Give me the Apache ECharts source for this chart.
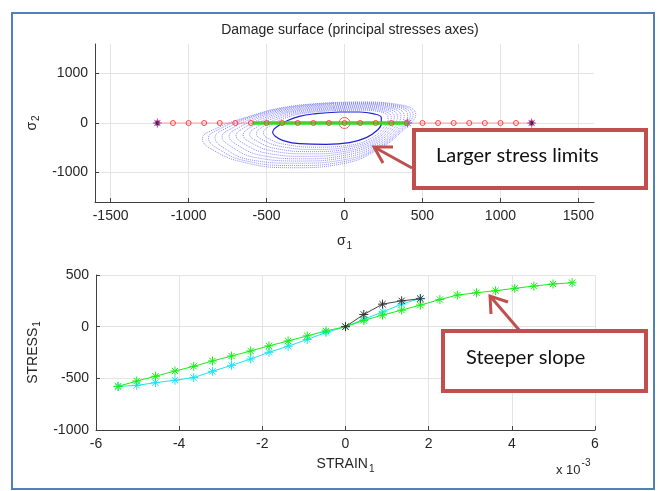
<!DOCTYPE html>
<html>
<head>
<meta charset="utf-8">
<script src="https://cdn.jsdelivr.net/npm/echarts@6/dist/echarts.min.js"></script>
<style>
  html, body { margin: 0; padding: 0; background: #fff; }
  #chart { width: 660px; height: 491px; }
</style>
</head>
<body>
<div id="chart"></div>
<script>
// ---- top plot: principal stresses plane ----
const sigmaTicks1 = [-1500, -1000, -500, 0, 500, 1000, 1500]
const sigmaTicks2 = [-1000, 0, 1000]
// loading path along sigma_1 (red circles)
const loadPath = [-1200, -1100, -1000, -900, -800, -700, -600, -500, -400, -300, -200, -100, 0,
  100, 200, 300, 400, 500, 600, 700, 800, 900, 1000, 1100, 1200]
const limitStars = [-1200, 1200]
const elasticSeg = [-590, 405]
// damage surfaces (left tip first, then clockwise)
const surfaceInner = [[-461, -182], [-429, -67], [-375, 34], [-290, 135], [-182, 189], [-32, 223], [97, 223],
  [182, 189], [236, 108], [236, -13], [204, -162], [140, -297], [32, -398], [-118, -432], [-290, -419],
  [-397, -351], [-444, -270]]
const surfaces = [
  [[-520, -200], [-480, -60], [-380, 100], [-250, 200], [-60, 250], [100, 258], [230, 225], [280, 110], [265, -40], [170, -310], [20, -455], [-170, -490], [-370, -440], [-480, -330]],
  [[-565, -215], [-520, -70], [-410, 105], [-265, 215], [-62, 270], [100, 280], [247, 240], [300, 120], [280, -50], [180, -335], [16, -490], [-185, -535], [-400, -480], [-520, -350]],
  [[-608, -228], [-560, -78], [-440, 110], [-280, 232], [-64, 290], [100, 300], [265, 258], [320, 130], [295, -57], [185, -360], [14, -530], [-205, -580], [-430, -525], [-560, -370]],
  [[-650, -242], [-600, -84], [-470, 114], [-295, 248], [-66, 310], [99, 320], [285, 273], [340, 138], [310, -65], [192, -385], [10, -570], [-225, -625], [-465, -565], [-605, -390]],
  [[-695, -255], [-640, -90], [-500, 118], [-310, 262], [-68, 330], [99, 340], [305, 290], [362, 145], [325, -75], [198, -410], [6, -610], [-245, -675], [-500, -610], [-650, -410]],
  [[-740, -268], [-680, -96], [-530, 122], [-325, 278], [-70, 350], [98, 360], [322, 305], [383, 152], [340, -83], [204, -435], [2, -655], [-265, -725], [-535, -655], [-695, -430]],
  [[-785, -281], [-720, -102], [-555, 126], [-340, 292], [-72, 370], [98, 378], [340, 320], [405, 160], [355, -92], [210, -460], [-2, -700], [-285, -770], [-570, -700], [-740, -450]],
  [[-830, -293], [-760, -107], [-580, 130], [-352, 305], [-73, 388], [97, 395], [352, 333], [422, 166], [366, -100], [215, -485], [-5, -745], [-305, -815], [-605, -745], [-790, -470]],
  [[-872, -305], [-795, -111], [-597, 133], [-364, 316], [-74, 402], [97, 411], [365, 346], [440, 171], [376, -108], [220, -502], [-8, -785], [-318, -862], [-630, -770], [-830, -485]],
  [[-912, -317], [-826, -115], [-611, 135], [-375, 325], [-75, 412], [97, 426], [376, 359], [457, 176], [386, -115], [225, -520], [-11, -825], [-332, -906], [-654, -791], [-869, -500]]
]

// ---- bottom plot: stress / strain (strain in 1e-3) ----
const strainTicks = [-6, -4, -2, 0, 2, 4, 6]
const stressTicks = [-1000, -500, 0, 500]
const strainGreen = [-5.47, -5.02, -4.57, -4.10, -3.65, -3.20, -2.74, -2.28, -1.84, -1.38, -0.92, -0.47, 0,
  0.44, 0.89, 1.35, 1.80, 2.27, 2.69, 3.15, 3.61, 4.07, 4.53, 4.99, 5.45]
const stressGreen = [-578, -526, -480, -429, -384, -332, -284, -235, -186, -138, -89, -41, 0,
  60, 112, 160, 209, 262, 306, 328, 348, 371, 393, 413, 425]
const strainCyan = [-5.47, -5.02, -4.57, -4.10, -3.65, -3.20, -2.74, -2.28, -1.84, -1.38, -0.92, -0.47, 0,
  0.45, 0.90, 1.35, 1.80]
const stressCyan = [-578, -568, -542, -518, -493, -432, -374, -313, -248, -189, -124, -56, 0,
  72, 144, 218, 274]
const strainBlack = [0, 0.44, 0.89, 1.35, 1.80]
const stressBlack = [0, 118, 218, 250, 270]

const ASTER = 'path://M5,0L5,10M0,5L10,5M1.5,1.5L8.5,8.5M1.5,8.5L8.5,1.5'
const FONT = 'Liberation Sans, Arial, sans-serif'
const TXT = '#262626'

const chart = echarts.init(document.getElementById('chart'))

const zip = (xs, ys) => xs.map((x, i) => [x, ys[i]])
// start the closed loop at a flat spot so the smoothing seam is hidden
const closeLoop = (pts, start) => pts.slice(start).concat(pts.slice(0, start + 1))

const subRich = {
  a: { fontSize: 14, color: TXT, fontFamily: FONT },
  s: { fontSize: 10, color: TXT, fontFamily: FONT, padding: [9, 0, 0, 1] }
}

const valueAxis = (grid, min, max, ticks, extra) => Object.assign({
  type: 'value',
  gridIndex: grid,
  min: min,
  max: max,
  axisLine: { show: true, onZero: false, lineStyle: { color: '#404040', width: 1 } },
  axisTick: { show: true, inside: true, length: 4, customValues: ticks, lineStyle: { color: '#404040' } },
  axisLabel: {
    customValues: ticks, color: TXT, fontSize: 14, fontFamily: FONT, margin: 7,
    showMinLabel: true, showMaxLabel: true, formatter: v => String(v)
  },
  splitLine: { show: true, lineStyle: { color: '#e4e4e4', width: 1 } },
  nameLocation: 'middle',
  nameTextStyle: { rich: subRich }
}, extra)

const lineSeries = (x, y, data, style) => Object.assign({
  type: 'line',
  xAxisIndex: x,
  yAxisIndex: y,
  data: data,
  silent: true,
  animation: false
}, style)

const series = []

surfaces.forEach(s => {
  series.push(lineSeries(0, 0, closeLoop(s, 4), {
    smooth: 0.45,
    showSymbol: false,
    lineStyle: { color: 'rgba(60,60,255,0.6)', width: 1, type: [1, 1] }
  }))
})
series.push(lineSeries(0, 0, closeLoop(surfaceInner, 5), {
  smooth: 0.45,
  showSymbol: false,
  lineStyle: { color: '#1f1fd8', width: 1.2 }
}))
series.push(lineSeries(0, 0, elasticSeg.map(v => [v, 0]), {
  showSymbol: false,
  lineStyle: { color: '#11ee11', width: 3.5 }
}))
series.push(lineSeries(0, 0, loadPath.map(v => [v, 0]), {
  symbol: 'circle',
  symbolSize: 5,
  showAllSymbol: true,
  itemStyle: { color: 'rgba(0,0,0,0)', borderColor: '#ff4040', borderWidth: 1 },
  lineStyle: { color: 'rgba(250,110,110,0.6)', width: 1 }
}))
series.push({
  type: 'scatter', xAxisIndex: 0, yAxisIndex: 0, silent: true, animation: false,
  data: [[0, 0]], symbol: 'circle', symbolSize: 11,
  itemStyle: { color: 'rgba(0,0,0,0)', borderColor: '#ff3030', borderWidth: 1 }
})
series.push({
  type: 'scatter', xAxisIndex: 0, yAxisIndex: 0, silent: true, animation: false,
  data: limitStars.concat([elasticSeg[1]]).map(v => [v, 0]), symbol: ASTER, symbolSize: 9,
  itemStyle: { color: 'rgba(0,0,0,0)', borderColor: '#3a3aff', borderWidth: 1 }
})
series.push({
  type: 'scatter', xAxisIndex: 0, yAxisIndex: 0, silent: true, animation: false,
  data: limitStars.map(v => [v, 0]), symbol: 'rect', symbolSize: 4,
  itemStyle: { color: '#10106a' }
})

const starLine = (xs, ys, color, lineColor) => lineSeries(1, 1, zip(xs, ys), {
  symbol: ASTER,
  symbolSize: 9,
  showAllSymbol: true,
  itemStyle: { color: 'rgba(0,0,0,0)', borderColor: color, borderWidth: 1 },
  lineStyle: { color: lineColor || color, width: 1 }
})
series.push(starLine(strainCyan, stressCyan, '#19e6f0'))
series.push(starLine(strainGreen, stressGreen, '#14f014'))
series.push(starLine(strainBlack, stressBlack, '#333333', '#444444'))

const boxColor = '#c0504d'

const option = {
  backgroundColor: '#fff',
  animation: false,
  title: {
    text: 'Damage surface (principal stresses axes)',
    left: 345,
    textAlign: 'center',
    top: 18,
    textStyle: { fontSize: 14, fontWeight: 'normal', color: TXT, fontFamily: FONT }
  },
  grid: [
    { left: 95, right: 66, top: 44, height: 158 },
    { left: 96, right: 65, top: 275, height: 155 }
  ],
  xAxis: [
    valueAxis(0, -1600, 1600, sigmaTicks1, { name: '{a|σ}{s|1}', nameGap: 30 }),
    valueAxis(1, -6, 6, strainTicks, { interval: 2, name: '{a|STRAIN}{s|1}', nameGap: 25 })
  ],
  yAxis: [
    valueAxis(0, -1600, 1600, sigmaTicks2, { name: '{a|σ}{s|2}', nameGap: 50 }),
    valueAxis(1, -1000, 500, stressTicks, { interval: 500, name: '{a|STRESS}{s|1}', nameGap: 52 })
  ],
  series: series,
  graphic: [
    {
      type: 'rect', silent: true, z: 100,
      shape: { x: 12, y: 13, width: 642, height: 476 },
      style: { fill: 'none', stroke: '#4f81bd', lineWidth: 2 }
    },
    {
      type: 'text', silent: true, z: 100, left: 556, top: 458,
      style: {
        text: '{a|x 10}{s|-3}',
        rich: {
          a: { fontSize: 13, fill: TXT, fontFamily: FONT, padding: [8, 0, 0, 0] },
          s: { fontSize: 10, fill: TXT, fontFamily: FONT, padding: [0, 0, 6, 1] }
        }
      }
    },
    // "Larger stress limits" callout
    {
      type: 'line', silent: true, z: 100,
      shape: { x1: 412, y1: 168, x2: 374, y2: 147 },
      style: { stroke: boxColor, lineWidth: 3 }
    },
    {
      type: 'polyline', silent: true, z: 100,
      shape: { points: [[393, 147], [374, 147], [383, 163]] },
      style: { stroke: boxColor, lineWidth: 3, fill: 'none' }
    },
    {
      type: 'rect', silent: true, z: 100,
      shape: { x: 414, y: 130, width: 232, height: 58 },
      style: { fill: '#fff', stroke: boxColor, lineWidth: 4 }
    },
    {
      type: 'text', silent: true, z: 101, left: 436, top: 146,
      style: { text: 'Larger stress limits', fontSize: 20, fill: '#111', fontFamily: 'Lato, sans-serif' }
    },
    // "Steeper slope" callout
    {
      type: 'line', silent: true, z: 100,
      shape: { x1: 520, y1: 331, x2: 490, y2: 296 },
      style: { stroke: boxColor, lineWidth: 3 }
    },
    {
      type: 'polyline', silent: true, z: 100,
      shape: { points: [[491, 314], [490, 296], [508, 302]] },
      style: { stroke: boxColor, lineWidth: 3, fill: 'none' }
    },
    {
      type: 'rect', silent: true, z: 100,
      shape: { x: 443, y: 331, width: 203, height: 60 },
      style: { fill: '#fff', stroke: boxColor, lineWidth: 4 }
    },
    {
      type: 'text', silent: true, z: 101, left: 466, top: 348,
      style: { text: 'Steeper slope', fontSize: 20, fill: '#111', fontFamily: 'Lato, sans-serif' }
    }
  ]
}

chart.setOption(option)
</script>
</body>
</html>
